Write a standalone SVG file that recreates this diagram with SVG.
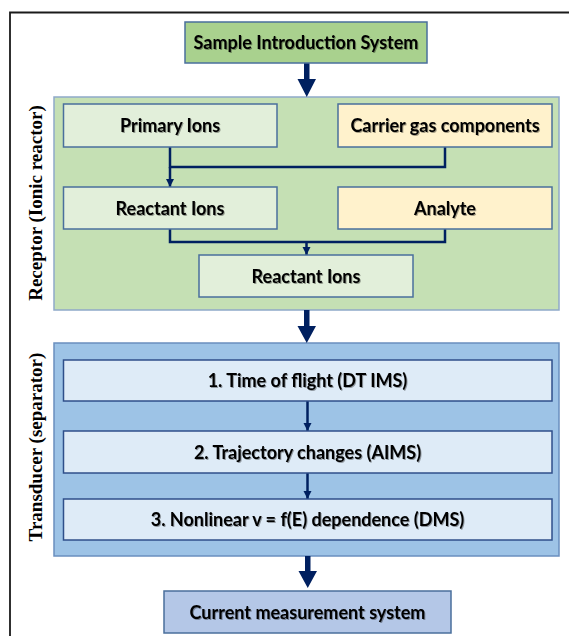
<svg xmlns="http://www.w3.org/2000/svg" width="569" height="636" viewBox="0 0 569 636">
<defs>
<style>
.lbl{font-family:Lato,"Open Sans","Liberation Sans",sans-serif;font-weight:bold;font-size:18px;fill:#000;text-anchor:middle;filter:url(#sh)}
.side{font-family:"Liberation Serif","Times New Roman",serif;font-weight:bold;font-size:19px;fill:#000;text-anchor:middle}
.box{stroke:#4a6f9c;stroke-width:1.5}
.g{fill:#e2efda}
.y{fill:#fff2cc}
.b{fill:#deebf7;stroke:#2f4f8a}
.con{fill:none;stroke:#002060;stroke-width:2.5}
.big{fill:#002060}
</style>
<filter id="sh" x="-10%" y="-30%" width="120%" height="160%">
<feDropShadow dx="1" dy="1" stdDeviation="0.7" flood-color="#000" flood-opacity="0.35"/>
</filter>
<marker id="ah" viewBox="0 0 10 10" refX="10" refY="5" markerWidth="3.4" markerHeight="3.4" orient="auto" markerUnits="strokeWidth">
<path d="M0,0 L10,5 L0,10 Z" fill="#002060"/>
</marker>
</defs>
<rect width="569" height="636" fill="#fff"/>
<path d="M10,636 V12.5 H569" fill="none" stroke="#1a1a1a" stroke-width="1.8"/>

<g id="receptor-panel">
<rect x="54" y="97" width="505" height="213" fill="#c5e0b4" stroke="#8fa9c9" stroke-width="1.5"/>
<text class="side" transform="translate(42,203) rotate(-90)">Receptor (Ionic reactor)</text>
</g>
<g id="transducer-panel">
<rect x="54" y="343" width="505" height="213" fill="#9dc3e6" stroke="#6a8fbf" stroke-width="1.5"/>
<text class="side" transform="translate(42,447) rotate(-90)">Transducer (separator)</text>
</g>

<g id="connectors">
<path class="big" d="M304,63 H309.5 V79 H316 L306.75,97 L297.5,79 H304 Z"/>
<path class="con" d="M170,147 V167 H445 V147"/>
<path class="con" d="M170,167 V187" marker-end="url(#ah)"/>
<path class="con" d="M170,229 V242 H445 V229"/>
<path class="con" d="M306.5,242 V255" marker-end="url(#ah)"/>
<path class="big" d="M304,310 H309.5 V326 H316 L306.75,343 L297.5,326 H304 Z"/>
<path class="con" d="M307.5,401 V431" marker-end="url(#ah)"/>
<path class="con" d="M307.5,473 V499" marker-end="url(#ah)"/>
<path class="big" d="M305,556 H310.5 V571 H317 L307.75,588 L298.5,571 H305 Z"/>
</g>

<g id="sample-introduction">
<rect class="box" x="185" y="22" width="242" height="41" fill="#a9d18e"/>
<text class="lbl" x="306" y="49">Sample Introduction System</text>
</g>
<g id="primary-ions">
<rect class="box g" x="63.5" y="104" width="213.5" height="43"/>
<text class="lbl" x="170" y="132">Primary Ions</text>
</g>
<g id="carrier-gas">
<rect class="box y" x="338" y="104" width="214" height="43"/>
<text class="lbl" x="445" y="132">Carrier gas components</text>
</g>
<g id="reactant-ions-1">
<rect class="box g" x="63.5" y="187" width="213.5" height="42"/>
<text class="lbl" x="170" y="214.5">Reactant Ions</text>
</g>
<g id="analyte">
<rect class="box y" x="338" y="187" width="214" height="42"/>
<text class="lbl" x="445" y="214.5">Analyte</text>
</g>
<g id="reactant-ions-2">
<rect class="box g" x="199" y="255" width="214" height="42"/>
<text class="lbl" x="306" y="282.5">Reactant Ions</text>
</g>
<g id="time-of-flight">
<rect class="box b" x="63.5" y="360" width="488.5" height="41"/>
<text class="lbl" x="307.5" y="387">1. Time of flight (DT IMS)</text>
</g>
<g id="trajectory-changes">
<rect class="box b" x="63.5" y="431" width="488.5" height="42"/>
<text class="lbl" x="307.5" y="458.5">2. Trajectory changes (AIMS)</text>
</g>
<g id="nonlinear">
<rect class="box b" x="63.5" y="499" width="488.5" height="41"/>
<text class="lbl" x="307.5" y="526">3. Nonlinear v = f(E) dependence (DMS)</text>
</g>
<g id="current-measurement">
<rect class="box" x="164" y="591" width="287" height="42" fill="#b4c7e7"/>
<text class="lbl" x="307.5" y="618.5">Current measurement system</text>
</g>
</svg>
